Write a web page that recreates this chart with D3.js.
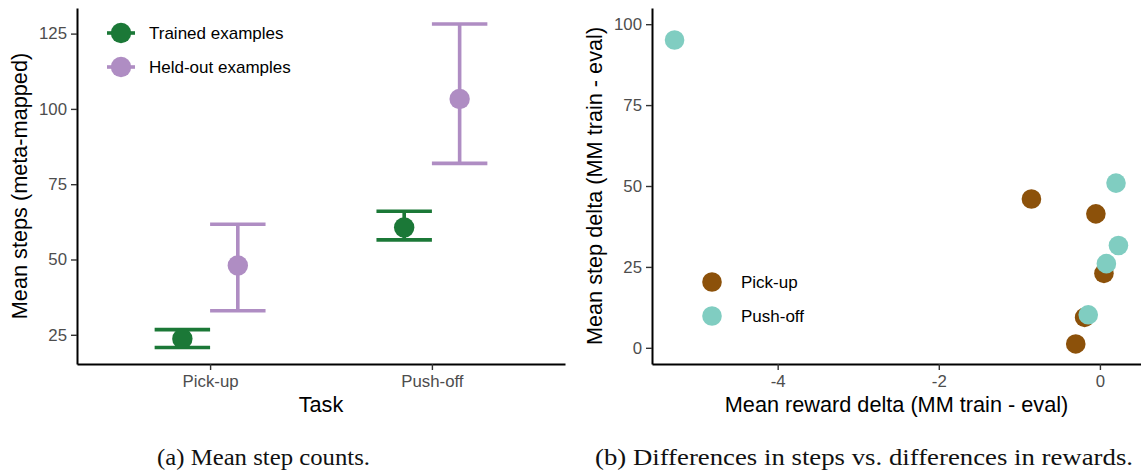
<!DOCTYPE html>
<html>
<head>
<meta charset="utf-8">
<script src="https://cdn.jsdelivr.net/npm/d3@7"></script>
<style>
  html, body { margin: 0; padding: 0; background: #fff; }
  svg { display: block; }
  .tick text { font-family: "Liberation Sans", Arial, sans-serif; font-size: 16.8px; fill: #4D4D4D; }
  .tick line { stroke: #333; stroke-width: 1.4px; }
  .domain { stroke: #000; stroke-width: 2px; }
  .title { font-family: "Liberation Sans", Arial, sans-serif; font-size: 21.7px; fill: #000; }
  .legend { font-family: "Liberation Sans", Arial, sans-serif; font-size: 17px; fill: #000; }
  .caption { font-family: "Liberation Serif", "Times New Roman", serif; font-size: 22.5px; fill: #111; }
</style>
</head>
<body>
<script>
// Panel (a): mean steps per task with error bars
const tasks = ["Pick-up", "Push-off"];
const groups = ["Trained examples", "Held-out examples"];
const trainedMean = [23.7, 60.6];
const trainedLow  = [20.8, 56.5];
const trainedHigh = [26.7, 66.0];
const heldMean = [48.0, 103.3];
const heldLow  = [33.0, 81.9];
const heldHigh = [61.7, 128.2];
const stepTicks = [25, 50, 75, 100, 125];

// Panel (b): step delta vs reward delta
const scatterGroups = ["Pick-up", "Push-off"];
const pickupReward  = [-0.85, -0.05, 0.05, -0.19, -0.30];
const pickupStep    = [46.0, 41.4, 23.0, 9.4, 1.2];
const pushoffReward = [-5.28, 0.20, 0.23, 0.08, -0.145];
const pushoffStep   = [95.1, 50.9, 31.6, 26.0, 10.2];
const deltaStepTicks = [0, 25, 50, 75, 100];
const rewardTicks = [-4, -2, 0];

const groupColors = ["#1B7837", "#AF8DC3"];
const scatterColors = ["#8C510A", "#80CDC1"];

const W = 1141, H = 470;
const svg = d3.select("body").append("svg").attr("width", W).attr("height", H);

// ---------- Panel (a) ----------
const a = svg.append("g");
const ax = d3.scalePoint().domain(tasks).range([77, 565]).padding(0.6);
const ay = d3.scaleLinear().domain([15.3, 133.5]).range([364, 8]);
const step = ax.step();
const dodge = step * 0.125;
const capHalf = step * 0.125;

a.append("g").attr("transform", "translate(77,0)")
  .call(d3.axisLeft(ay).tickValues(stepTicks).tickSize(6).tickSizeOuter(0).tickPadding(4));
a.append("g").attr("transform", "translate(0,364)")
  .call(d3.axisBottom(ax).tickSize(6).tickSizeOuter(0).tickPadding(5));

const seriesA = [
  { mean: trainedMean, low: trainedLow, high: trainedHigh, off: -dodge, color: groupColors[0] },
  { mean: heldMean, low: heldLow, high: heldHigh, off: dodge, color: groupColors[1] }
];
seriesA.forEach(s => {
  const g = a.append("g");
  tasks.forEach((t, i) => {
    const cx = ax(t) + s.off;
    g.append("line").attr("x1", cx).attr("x2", cx)
      .attr("y1", ay(s.low[i])).attr("y2", ay(s.high[i]))
      .attr("stroke", s.color).attr("stroke-width", 3.6);
    [s.low[i], s.high[i]].forEach(v => {
      g.append("line").attr("x1", cx - capHalf).attr("x2", cx + capHalf)
        .attr("y1", ay(v)).attr("y2", ay(v))
        .attr("stroke", s.color).attr("stroke-width", 3.6);
    });
    g.append("circle").attr("cx", cx).attr("cy", ay(s.mean[i])).attr("r", 10.2)
      .attr("fill", s.color);
  });
});

a.append("text").attr("class", "title").attr("text-anchor", "middle")
  .attr("x", (77 + 565) / 2).attr("y", 412).text("Task");
a.append("text").attr("class", "title").attr("text-anchor", "middle")
  .attr("transform", `translate(27,${(8 + 364) / 2}) rotate(-90)`).text("Mean steps (meta-mapped)");

// legend (a)
groups.forEach((name, i) => {
  const ly = 33 + i * 34;
  a.append("line").attr("x1", 107).attr("x2", 135).attr("y1", ly).attr("y2", ly)
    .attr("stroke", groupColors[i]).attr("stroke-width", 3.6);
  a.append("circle").attr("cx", 121).attr("cy", ly).attr("r", 10.2).attr("fill", groupColors[i]);
  a.append("text").attr("class", "legend").attr("x", 149).attr("y", ly)
    .attr("dominant-baseline", "central").text(name);
});

// ---------- Panel (b) ----------
const b = svg.append("g");
const bx = d3.scaleLinear().domain([-5.56, 0.51]).range([652, 1141]);
const by = d3.scaleLinear().domain([-5, 105]).range([364, 8]);

b.append("g").attr("transform", "translate(652,0)")
  .call(d3.axisLeft(by).tickValues(deltaStepTicks).tickSize(6).tickSizeOuter(0).tickPadding(4));
b.append("g").attr("transform", "translate(0,364)")
  .call(d3.axisBottom(bx).tickValues(rewardTicks).tickFormat(d => String(d)).tickSize(6).tickSizeOuter(0).tickPadding(5));

const seriesB = [
  { xs: pickupReward, ys: pickupStep, color: scatterColors[0] },
  { xs: pushoffReward, ys: pushoffStep, color: scatterColors[1] }
];
seriesB.forEach(s => {
  b.append("g").selectAll("circle").data(d3.range(s.xs.length)).join("circle")
    .attr("cx", i => bx(s.xs[i])).attr("cy", i => by(s.ys[i])).attr("r", 9.8)
    .attr("fill", s.color);
});

b.append("text").attr("class", "title").attr("text-anchor", "middle")
  .attr("x", (652 + 1141) / 2).attr("y", 412).text("Mean reward delta (MM train - eval)");
b.append("text").attr("class", "title").attr("text-anchor", "middle")
  .attr("transform", `translate(602,${(8 + 364) / 2}) rotate(-90)`).text("Mean step delta (MM train - eval)");

scatterGroups.forEach((name, i) => {
  const ly = 282 + i * 34;
  b.append("circle").attr("cx", 712).attr("cy", ly).attr("r", 9.8).attr("fill", scatterColors[i]);
  b.append("text").attr("class", "legend").attr("x", 741).attr("y", ly)
    .attr("dominant-baseline", "central").text(name);
});

// ---------- Captions ----------
svg.append("text").attr("class", "caption").attr("text-anchor", "middle")
  .attr("x", 263.5).attr("y", 465).attr("textLength", 213).attr("lengthAdjust", "spacingAndGlyphs")
  .text("(a) Mean step counts.");
svg.append("text").attr("class", "caption").attr("text-anchor", "middle")
  .attr("x", 864).attr("y", 465).attr("textLength", 538).attr("lengthAdjust", "spacingAndGlyphs")
  .text("(b) Differences in steps vs. differences in rewards.");
</script>
</body>
</html>
